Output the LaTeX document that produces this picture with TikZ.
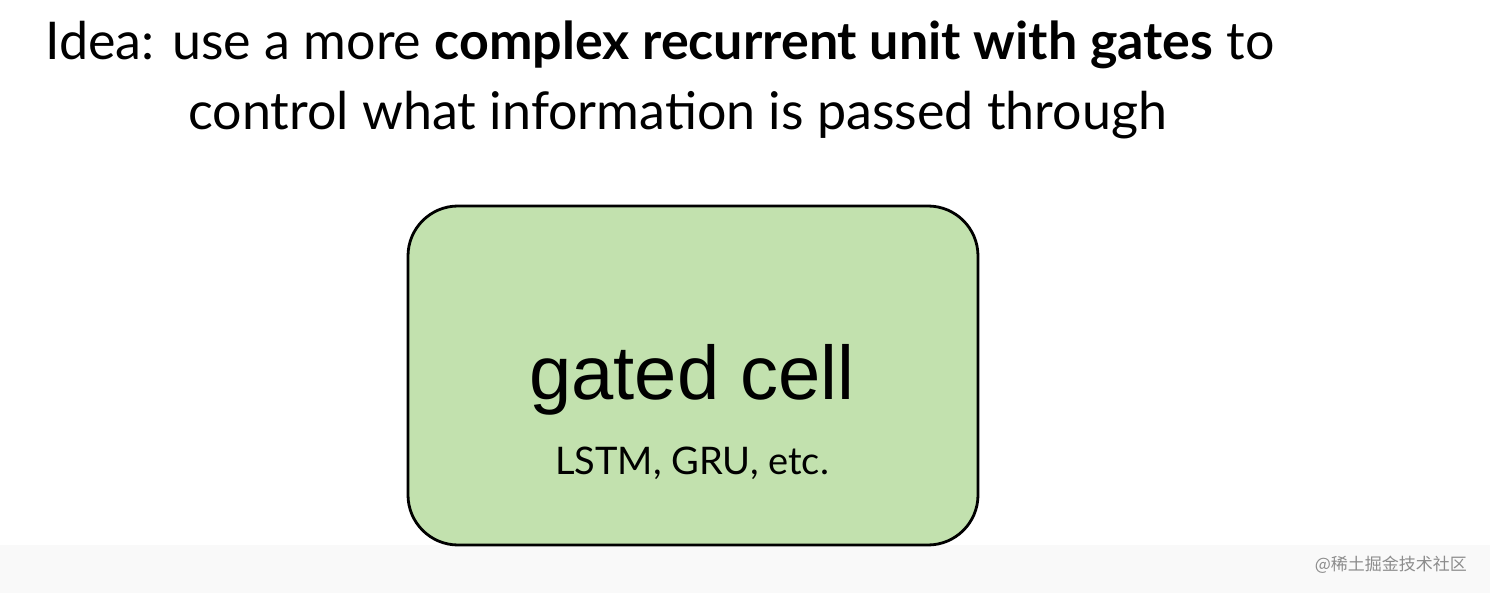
\documentclass[tikz,border=0pt]{standalone}
\usepackage{fontspec}
\setmainfont{Lato}
\newfontfamily\arialf{Liberation Sans}
\newfontfamily\cjk{Noto Sans CJK SC}
\definecolor{cellgreen}{HTML}{C2E1AE}
\begin{document}
\begin{tikzpicture}[x=0.5pt,y=-0.5pt]
\useasboundingbox (0,0) rectangle (1490,593);
\fill[white] (0,0) rectangle (1490,593);
\fill[black!2.5] (0,545) rectangle (1490,593);
\node[anchor=base west,inner sep=0,font=\fontsize{26}{30}\selectfont] (l1) at (45,60) {Idea: use a more \textbf{complex recurrent unit with gates} to};
\node[anchor=base west,inner sep=0,font=\fontsize{26}{30}\selectfont] (l2) at (188,130) {control what information is passed through};
\draw[line width=1.4pt,fill=cellgreen,rounded corners=25pt] (408,206) rectangle (978,545);
\node[font=\arialf\fontsize{38}{42}\selectfont] (g) at (692,380) {gated cell};
\node[font=\fontsize{19}{22}\selectfont] (s) at (692,463) {LSTM, GRU, etc.};
\node[font=\cjk\fontsize{8.5}{10}\selectfont,text=black!45,anchor=east] (w) at (1474,565) {@稀土掘金技术社区};
\end{tikzpicture}
\end{document}
